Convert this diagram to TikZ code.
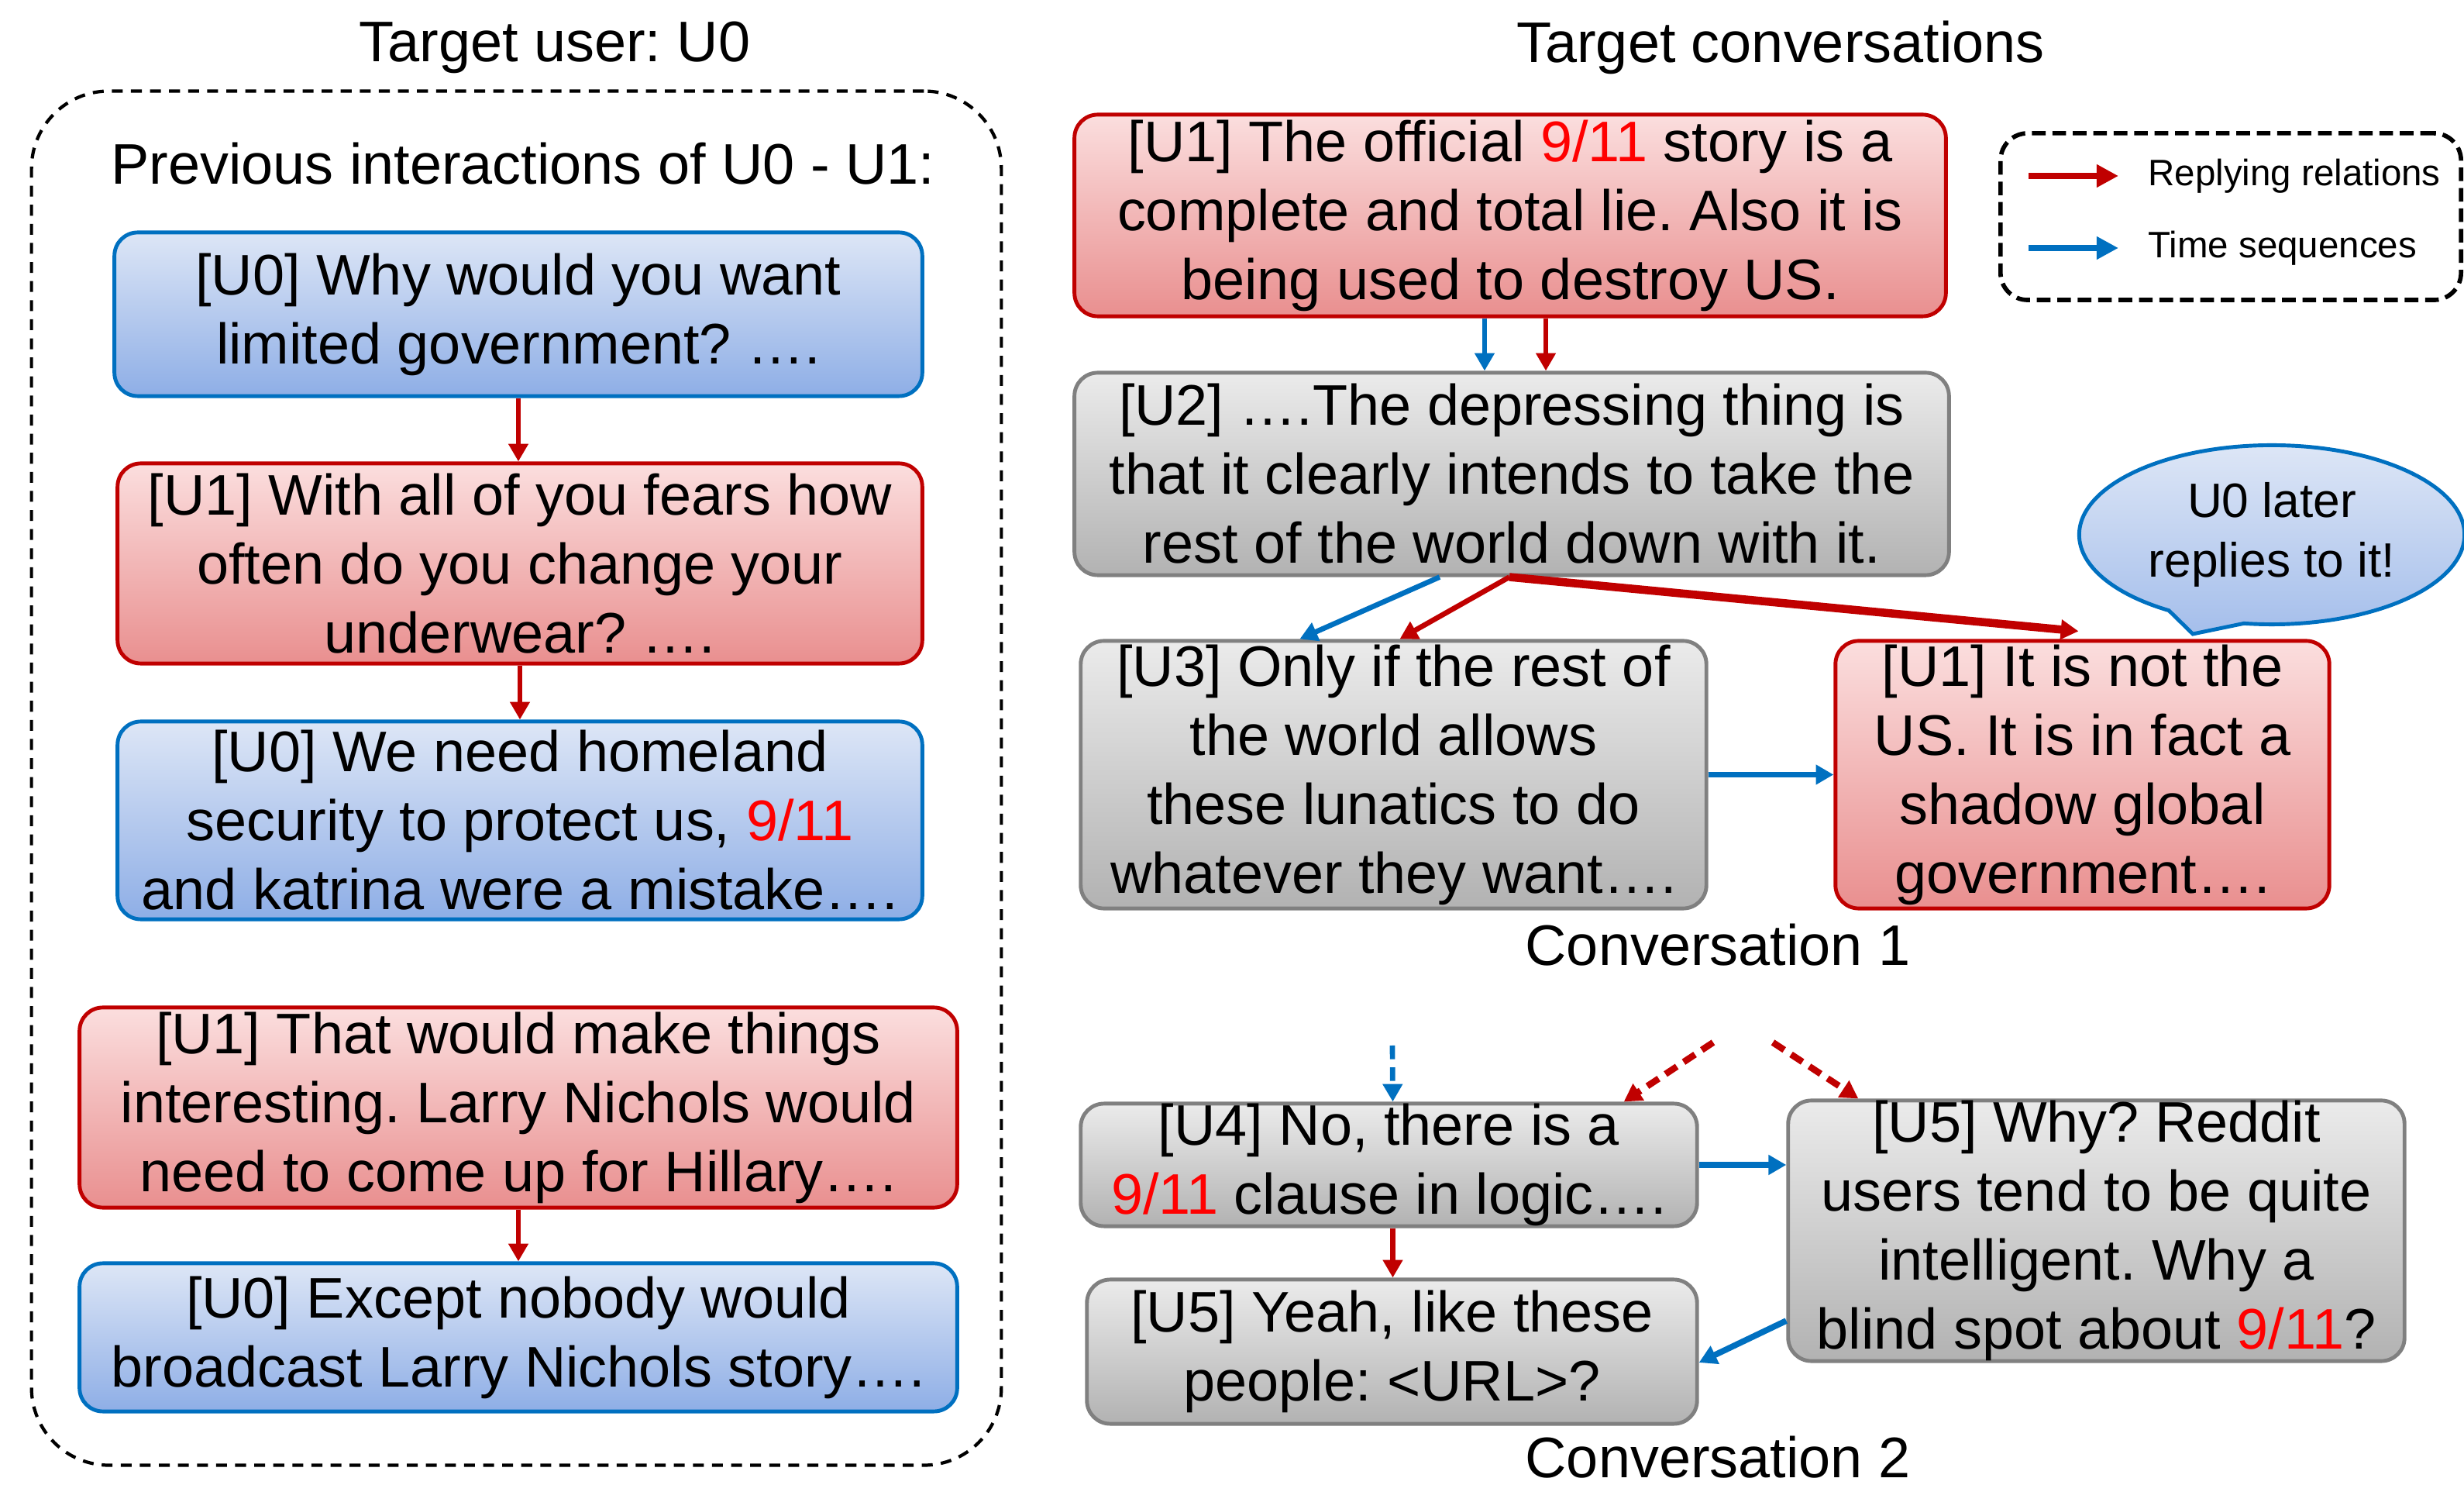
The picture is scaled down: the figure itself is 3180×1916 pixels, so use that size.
\documentclass[tikz,border=0pt]{standalone}
\usepackage{fontspec}
\setmainfont{Liberation Sans}
\usetikzlibrary{arrows.meta,shapes.callouts}
\frenchspacing

\definecolor{replyred}{HTML}{C00000}
\definecolor{timeblue}{HTML}{0070C0}
\definecolor{hlred}{HTML}{FF0000}
\definecolor{bluetop}{HTML}{DDE6F6}
\definecolor{bluebot}{HTML}{8EAEE6}
\definecolor{redtop}{HTML}{FBDEDE}
\definecolor{redbot}{HTML}{E98F8F}
\definecolor{graytop}{HTML}{EBEBEB}
\definecolor{graybot}{HTML}{B2B2B2}
\definecolor{grayline}{HTML}{808080}

\newcommand{\nineeleven}{\textcolor{hlred}{9/11}}

\tikzstyle{post}=[rounded corners=0.3cm,
                  line width=1.4pt,
                  inner sep=0pt,
                  align=center,
                  font=\fontsize{21}{25.3}\selectfont]
\tikzstyle{upost}=[post, draw=timeblue, top color=bluetop, bottom color=bluebot]
\tikzstyle{rpost}=[post, draw=replyred, top color=redtop, bottom color=redbot]
\tikzstyle{gpost}=[post, draw=grayline, top color=graytop, bottom color=graybot]
\tikzstyle{title}=[font=\fontsize{21}{25.3}\selectfont]
\tikzstyle{reply}=[->, replyred, line width=1.9pt]
\tikzstyle{timeline}=[->, timeblue, line width=1.9pt]

\begin{document}
\begin{tikzpicture}[x=0.01cm, y=-0.01cm, >={Triangle[length=6.5pt,width=7pt]}]
  \useasboundingbox (0,0) rectangle (3180,1916);

  % left part: history of the target user
  \node (usertitle) [title] at (716,61) {Target user: U0};
  \node (history) [draw, dash pattern=on 4pt off 3pt, line width=1.2pt,
        rounded corners=1cm, minimum width=12.51cm, minimum height=17.72cm] at (666.5,1004) {};
  \node (prev) [title] at (675,211) {Previous interactions of U0 - U1:};

  \node (l1) [upost, minimum width=10.42cm, minimum height=2.11cm] at (669,405.5)
        {[U0] Why would you want\\limited government? ….};
  \node (l2) [rpost, minimum width=10.38cm, minimum height=2.58cm] at (671,727)
        {[U1] With all of you fears how\\often do you change your\\underwear? ….};
  \node (l3) [upost, minimum width=10.38cm, minimum height=2.55cm] at (671,1058.5)
        {[U0] We need homeland\\security to protect us, \nineeleven\\and katrina were a mistake….};
  \node (l4) [rpost, minimum width=11.32cm, minimum height=2.58cm] at (669,1429)
        {[U1] That would make things\\interesting. Larry Nichols would\\need to come up for Hillary….};
  \node (l5) [upost, minimum width=11.32cm, minimum height=1.91cm] at (669,1725.5)
        {[U0] Except nobody would\\broadcast Larry Nichols story….};

  \draw[reply] (l1.south) -- (l1.south |- l2.north);
  \draw[reply] (l2.south) -- (l2.south |- l3.north);
  \draw[reply] (l4.south) -- (l4.south |- l5.north);

  % right part: the conversations
  \node (convtitle) [title] at (2298,61) {Target conversations};

  \node (legend) [draw, dash pattern=on 5pt off 2.5pt, line width=1.6pt,
        rounded corners=0.35cm, minimum width=5.94cm, minimum height=2.15cm] at (2879,279.5) {};
  \coordinate (replyfrom) at (2618,227);
  \coordinate (replyto) at (2734,227);
  \coordinate (timefrom) at (2618,320);
  \coordinate (timeto) at (2734,320);
  \node (replytext) [anchor=west, font=\fontsize{13.5}{16}\selectfont] at (2760,227) {Replying relations};
  \node (timetext) [anchor=west, font=\fontsize{13.5}{16}\selectfont] at (2760,320) {Time sequences};
  \draw[reply, line width=2.4pt, -{Triangle[length=8pt,width=8pt]}] (replyfrom) -- (replyto);
  \draw[timeline, line width=2.4pt, -{Triangle[length=8pt,width=8pt]}] (timefrom) -- (timeto);

  \node (r1) [rpost, minimum width=11.24cm, minimum height=2.60cm] at (1949,278)
        {[U1] The official \nineeleven{} story is a\\complete and total lie. Also it is\\being used to destroy US.};
  \node (r2) [gpost, minimum width=11.28cm, minimum height=2.61cm] at (1951,611.5)
        {[U2] ….The depressing thing is\\that it clearly intends to take the\\rest of the world down with it.};

  \node (later) [ellipse callout, draw=timeblue, line width=1.4pt, top color=bluetop, bottom color=bluebot!80!white,
        minimum width=4.97cm, minimum height=2.31cm, inner sep=0pt, align=center,
        callout absolute pointer={(2830,818)}, callout pointer arc=24,
        font=\fontsize{17.7}{21.8}\selectfont] at (2932,690)
        {U0 later\\replies to it!};

  \node (r3) [gpost, minimum width=8.07cm, minimum height=3.45cm] at (1798.5,999.5)
        {[U3] Only if the rest of\\the world allows\\these lunatics to do\\whatever they want….};
  \node (r4) [rpost, minimum width=6.37cm, minimum height=3.45cm] at (2687.5,999.5)
        {[U1] It is not the\\US. It is in fact a\\shadow global\\government….};
  \node (conv1) [title] at (2217,1219) {Conversation 1};

  \draw[timeline] ([xshift=-0.33cm]r1.south) -- ([xshift=-0.33cm]r1.south |- r2.north);
  \draw[reply] ([xshift=0.46cm]r1.south) -- ([xshift=0.46cm]r1.south |- r2.north);
  \draw[timeline] ([xshift=-0.93cm]r2.south) -- ([xshift=-1.21cm]r3.north);
  \draw[reply] ([xshift=-0.03cm]r2.south) -- ([xshift=0.08cm]r3.north);
  \draw[reply, line width=3pt] ([xshift=-0.03cm]r2.south) -- ([xshift=-0.05cm,yshift=0.1cm]r4.north);
  \draw[timeline, line width=2.2pt] (r3.east) -- (r4.west);

  \node (r5) [gpost, minimum width=7.95cm, minimum height=1.58cm] at (1792.5,1503)
        {[U4] No, there is a\\\nineeleven{} clause in logic….};
  \node (r6) [gpost, minimum width=7.95cm, minimum height=3.36cm] at (2705.5,1588)
        {[U5] Why? Reddit\\users tend to be quite\\intelligent. Why a\\blind spot about \nineeleven?};
  \node (r7) [gpost, minimum width=7.87cm, minimum height=1.86cm] at (1796.5,1744)
        {[U5] Yeah, like these\\people: <URL>?};
  \node (conv2) [title] at (2217,1880) {Conversation 2};

  \coordinate (earlier) at (1797,1349);
  \coordinate (parentl) at (2211,1345);
  \coordinate (parentr) at (2288,1345);
  \draw[timeline, dash pattern=on 5pt off 3pt] (earlier) -- ([xshift=0.05cm]r5.north);
  \draw[reply, line width=2.4pt, dash pattern=on 5pt off 3pt] (parentl) -- ([xshift=3.03cm]r5.north);
  \draw[reply, line width=2.4pt, dash pattern=on 5pt off 3pt] (parentr) -- ([xshift=-3.07cm]r6.north);
  \draw[timeline, line width=2.2pt] (r5.east) -- (r5.east -| r6.west);
  \draw[reply] ([xshift=0.05cm]r5.south) -- ([xshift=0.05cm]r5.south |- r7.north);
  \draw[timeline, line width=2.2pt] ([yshift=-1.16cm]r6.west) -- ([yshift=-0.14cm]r7.east);
\end{tikzpicture}
\end{document}
